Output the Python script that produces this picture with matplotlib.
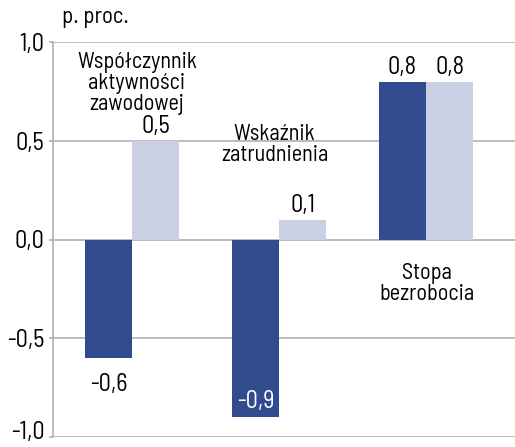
import matplotlib
matplotlib.use('Agg')
import matplotlib.pyplot as plt
import matplotlib.transforms as mtransforms
from matplotlib import font_manager
import numpy as np

available = set(f.name for f in font_manager.fontManager.ttflist)
for fam in ['Barlow Semi Condensed', 'PT Sans Narrow', 'DejaVu Sans']:
    if fam in available:
        break
plt.rcParams['font.family'] = [fam, 'DejaVu Sans']

# data
groups = ['Współczynnik\naktywności\nzawodowej', 'Wskaźnik\nzatrudnienia', 'Stopa\nbezrobocia']
dark_vals = [-0.6, -0.9, 0.8]
light_vals = [0.5, 0.1, 0.8]
yticks = [-1.0, -0.5, 0.0, 0.5, 1.0]
ytick_labels = ['-1,0', '-0,5', '0,0', '0,5', '1,0']

dark = '#324a8e'
light = '#cad0e3'
grid_c = '#b0b0b0'

fig = plt.figure(figsize=(5.15, 4.47), dpi=100)
ax = fig.add_axes([53/515, 1 - 437/447, (515 - 53)/515, (437 - 42)/447])

x = np.arange(len(groups))
w = 0.32
ax.bar(x - w/2, dark_vals, w, color=dark, zorder=3)
ax.bar(x + w/2, light_vals, w, color=light, zorder=3)

ax.set_xlim(-0.537, 2.605)
ax.set_ylim(-1.0, 1.0)
ax.set_yticks(yticks)
ax.set_yticklabels(ytick_labels, fontsize=17.5)
ax.set_xticks([])
ax.yaxis.grid(True, color=grid_c, linewidth=1.2, zorder=0)
for s in ['top', 'right', 'bottom']:
    ax.spines[s].set_visible(False)
ax.spines['left'].set_color(grid_c)
ax.spines['left'].set_linewidth(1.2)
ax.tick_params(axis='y', length=3, color=grid_c, width=1.2, pad=3)
# bottom label sits a bit higher, like the original
lab = ax.get_yticklabels()[0]
lab.set_transform(lab.get_transform() + mtransforms.ScaledTranslation(0, 5/72, fig.dpi_scale_trans))

def fmt(v):
    return ('%.1f' % v).replace('.', ',')

# value labels
for i in range(len(groups)):
    for v, off in [(dark_vals[i], -w/2), (light_vals[i], w/2)]:
        if v >= 0:
            ax.annotate(fmt(v), (i + off, v), xytext=(0, 2), textcoords='offset points',
                        ha='center', va='bottom', fontsize=17.5)
        elif v > -0.8:
            ax.annotate(fmt(v), (i + off, v), xytext=(0, -11), textcoords='offset points',
                        ha='center', va='top', fontsize=17.5)
        else:
            ax.annotate(fmt(v), (i + off, v), xytext=(0, 3), textcoords='offset points',
                        ha='center', va='bottom', fontsize=17.5, color='white')

# category labels
ax.text(0.034, 0.79, groups[0], ha='center', va='center', fontsize=16, linespacing=1.0)
ax.text(0.97, 0.48, groups[1], ha='center', va='center', fontsize=16, linespacing=1.0)
ax.text(2.007, -0.227, groups[2], ha='center', va='center', fontsize=16, linespacing=1.0)

fig.text(62/515, 1 - 18/447, 'p. proc.', ha='left', va='center', fontsize=16.5)

fig.savefig('out.png', dpi=100)
